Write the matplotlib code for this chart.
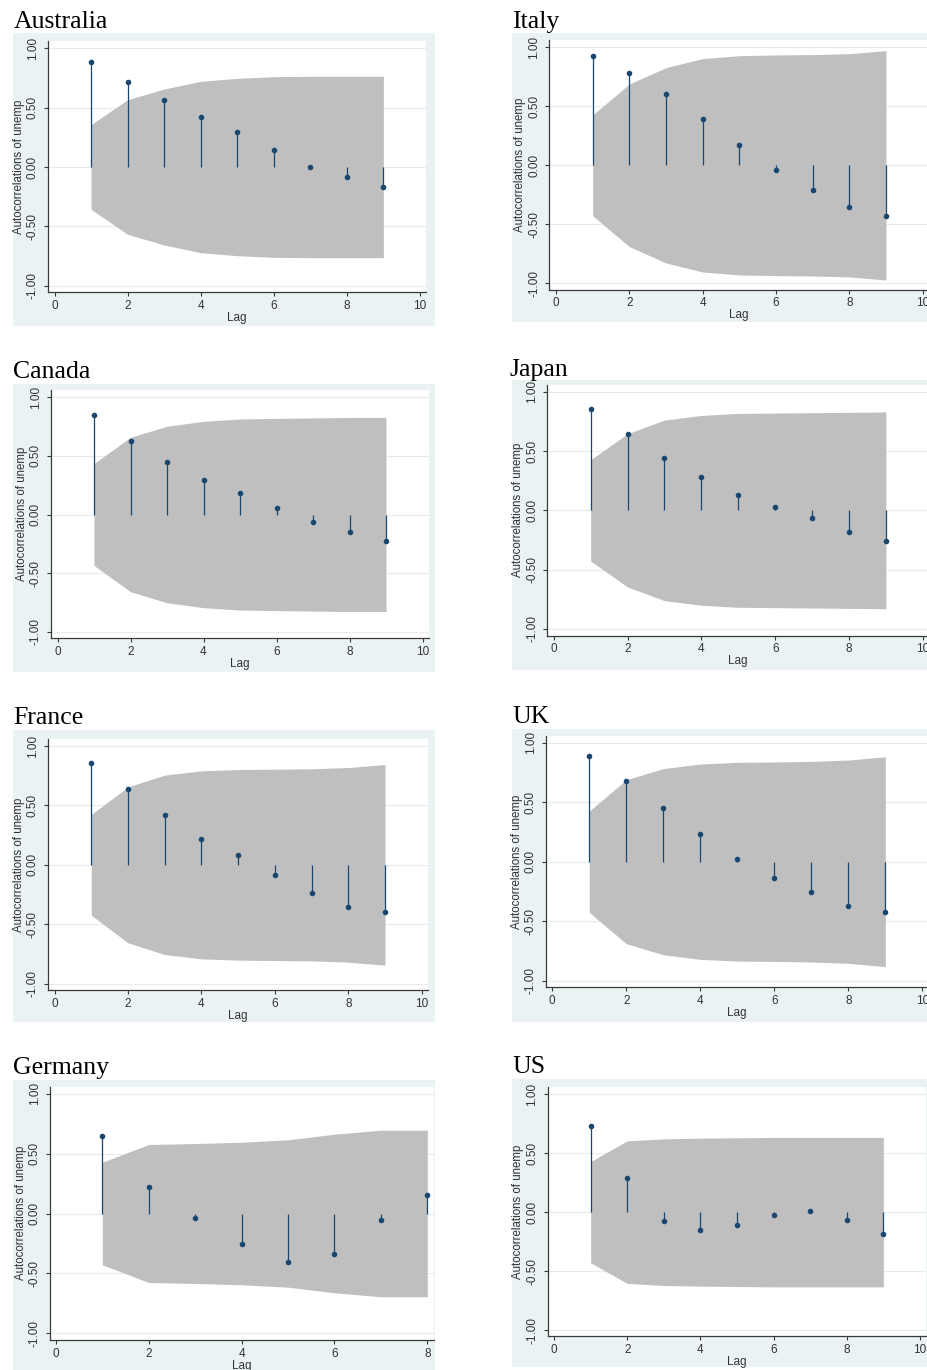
import matplotlib
matplotlib.use("Agg")
import matplotlib.pyplot as plt
import numpy as np
from matplotlib.patches import Rectangle

plt.rcParams['font.family'] = ['Liberation Sans', 'DejaVu Sans']

# data
countries = ['Australia', 'Italy', 'Canada', 'Japan', 'France', 'UK', 'Germany', 'US']

acf_australia = [0.885, 0.713, 0.565, 0.421, 0.292, 0.140, 0.003, -0.087, -0.171]
ci_australia = [0.357, 0.567, 0.657, 0.722, 0.747, 0.761, 0.764, 0.764, 0.764]

acf_italy = [0.927, 0.782, 0.605, 0.395, 0.172, -0.040, -0.209, -0.353, -0.429]
ci_italy = [0.427, 0.689, 0.828, 0.904, 0.929, 0.935, 0.938, 0.946, 0.972]

acf_canada = [0.849, 0.628, 0.449, 0.298, 0.182, 0.057, -0.063, -0.153, -0.224]
ci_canada = [0.435, 0.659, 0.753, 0.795, 0.815, 0.820, 0.824, 0.828, 0.828]

acf_japan = [0.854, 0.646, 0.441, 0.278, 0.132, 0.028, -0.065, -0.183, -0.261]
ci_japan = [0.427, 0.646, 0.761, 0.800, 0.817, 0.820, 0.823, 0.826, 0.829]

acf_france = [0.853, 0.637, 0.421, 0.216, 0.081, -0.084, -0.233, -0.351, -0.396]
ci_france = [0.424, 0.656, 0.755, 0.791, 0.802, 0.805, 0.808, 0.819, 0.844]

acf_uk = [0.885, 0.681, 0.451, 0.235, 0.022, -0.140, -0.258, -0.370, -0.423]
ci_uk = [0.426, 0.689, 0.782, 0.821, 0.835, 0.838, 0.843, 0.854, 0.882]

acf_germany = [0.643, 0.225, -0.039, -0.253, -0.406, -0.334, -0.053, 0.153]
ci_germany = [0.428, 0.576, 0.584, 0.595, 0.615, 0.662, 0.695, 0.695]

acf_us = [0.735, 0.286, -0.074, -0.153, -0.105, -0.028, 0.006, -0.065, -0.184]
ci_us = [0.430, 0.605, 0.622, 0.628, 0.631, 0.634, 0.634, 0.634, 0.634]

acfs = [acf_australia, acf_italy, acf_canada, acf_japan, acf_france, acf_uk, acf_germany, acf_us]
cis = [ci_australia, ci_italy, ci_canada, ci_japan, ci_france, ci_uk, ci_germany, ci_us]
xmax = [10, 10, 10, 10, 10, 10, 8, 10]

ytick_vals = [-1, -0.5, 0, 0.5, 1]
ytick_labels = ['-1.00', '-0.50', '0.00', '0.50', '1.00']

# layout in pixels: box (x0, y0, x1, y1), title (x, baseline), y=1 px, y=-1 px, x=0 px, x=xmax px
W, H = 927, 1370
layout = [
    ((13.3, 33.0, 435.0, 326.0), (13.3, 28.3), 48.3, 285.7, 54.5, 419.9),
    ((512.3, 33.3, 934.5, 321.7), (512.3, 28.3), 47.3, 283.3, 556.0, 922.6),
    ((13.3, 384.3, 435.0, 671.7), (13.3, 378.3), 397.3, 631.7, 57.5, 422.5),
    ((512.3, 380.0, 934.5, 670.0), (510.0, 375.7), 391.7, 629.0, 553.8, 922.8),
    ((13.3, 730.0, 435.0, 1021.7), (13.3, 724.0), 746.0, 983.7, 54.6, 421.7),
    ((512.3, 729.3, 934.5, 1021.7), (512.3, 723.3), 742.7, 980.7, 552.3, 922.3),
    ((13.3, 1080.0, 435.0, 1380.0), (13.3, 1074.0), 1093.7, 1333.3, 55.9, 427.3),
    ((512.3, 1079.3, 934.5, 1366.7), (512.3, 1072.7), 1094.3, 1330.0, 554.1, 919.9),
]

navy = '#1a476f'
band = '#bfbfbf'
bg = '#eaf2f3'
axcol = '#3a3a3a'

fig = plt.figure(figsize=(9.27, 13.70), dpi=100)

for name, acf, ci, xm, lay in zip(countries, acfs, cis, xmax, layout):
    box, tpos, y1, ym1, x0, xt = lay
    bx0, by0, bx1, by1 = box
    fig.add_artist(Rectangle((bx0 / W, 1 - by1 / H), (bx1 - bx0) / W, (by1 - by0) / H,
                             transform=fig.transFigure, facecolor=bg, edgecolor='none', zorder=-5))
    fig.text(tpos[0] / W, 1 - tpos[1] / H, name, fontfamily='Liberation Serif',
             fontsize=18.5, ha='left', va='baseline')

    sx = (xt - x0) / xm
    if xm == 10:
        xlim = (-0.18, 10.17)
    else:
        xlim = (-0.13, 8.15)
    sy = (ym1 - y1) / 2
    ymid = (y1 + ym1) / 2
    ylim = (-1.055, 1.06)
    left = x0 + xlim[0] * sx
    right = x0 + xlim[1] * sx
    top = ymid - ylim[1] * sy
    bottom = ymid - ylim[0] * sy

    ax = fig.add_axes([left / W, 1 - bottom / H, (right - left) / W, (bottom - top) / H])
    ax.set_facecolor('white')
    lags = np.arange(1, len(acf) + 1)
    ci = np.array(ci)
    ax.fill_between(lags, -ci, ci, color=band, lw=0, zorder=1)
    ax.vlines(lags, 0, acf, color=navy, lw=0.9, zorder=2)
    ax.plot(lags, acf, 'o', ms=3.0, color=navy, zorder=3)

    ax.set_xlim(xlim)
    ax.set_ylim(ylim)
    ax.set_xticks(np.arange(0, xm + 1, 2))
    ax.set_yticks(ytick_vals)
    ax.set_yticklabels(ytick_labels, rotation=90, va='center')
    ax.yaxis.grid(True, color='#e4ecee', lw=0.8)
    ax.set_axisbelow(True)
    for sp in ['top', 'right']:
        ax.spines[sp].set_visible(False)
    for sp in ['left', 'bottom']:
        ax.spines[sp].set_color(axcol)
        ax.spines[sp].set_linewidth(0.9)
    ax.tick_params(direction='out', length=3, width=0.8, color=axcol,
                   labelsize=8.5, labelcolor='#333333')
    ax.tick_params(axis='x', pad=2.5)
    ax.tick_params(axis='y', pad=3.5)
    ax.set_xlabel('Lag', fontsize=8.5, color='#333333', labelpad=0)
    ax.set_ylabel('Autocorrelations of unemp', fontsize=8.3, color='#333333', labelpad=1.5)

fig.savefig('out.png', dpi=100, facecolor='white')
